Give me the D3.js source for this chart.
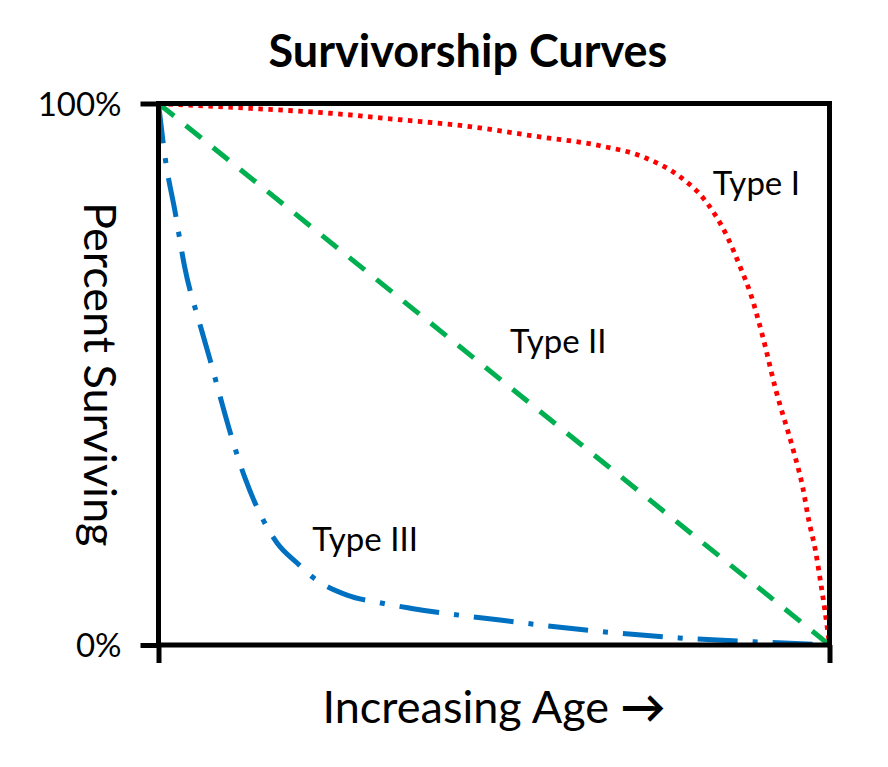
<!DOCTYPE html>
<html>
<head>
<meta charset="utf-8">
<style>
  body { margin: 0; background: #fff; }
  svg { display: block; }
  text { font-family: Lato, "Open Sans", sans-serif; fill: #000; }
  .axis .domain { display: none; }
</style>
</head>
<body>
<svg width="888" height="767"></svg>
<script src="https://d3js.org/d3.v7.min.js"></script>
<script>
  // age (0-100 % of lifespan) vs percent surviving
  var typeIAge = [0, 13.7, 25.6, 36, 46, 55.9, 65.8, 72.3, 77.8, 81.2, 84.8, 86.7, 88.2, 90, 92, 94.6, 96, 96.9, 97.9, 98.7, 99.3, 100];
  var typeISurv = [100, 99.1, 98.2, 97, 95.8, 94, 92.2, 90.1, 86.4, 82.5, 75.3, 69.8, 65, 57.2, 47.1, 36, 29.2, 23.1, 17.5, 11.4, 6.5, 0];
  var typeIIAge = [0, 100];
  var typeIISurv = [100, 0];
  var typeIIIAge = [0, 1, 2.5, 3.9, 6.2, 7.7, 9.2, 10.7, 12.9, 14.4, 15.6, 17.7, 20.7, 22.9, 28.1, 33, 37.5, 50.9, 66.6, 77.6, 88.7, 100];
  var typeIIISurv = [100, 89.9, 79.8, 69.8, 59.1, 52.6, 45.8, 39.2, 30.8, 26.2, 23.1, 18.8, 15.1, 12.6, 9.2, 7.8, 6.8, 4.6, 2.4, 1.3, 0.6, 0];
  var seriesNames = ["Type I", "Type II", "Type III"];
  var labelAge = [82.6, 52.4, 22.9];
  var labelSurv = [83.1, 53.9, 17.3];
  var yTicks = [0, 100];
  var xTicks = [0, 100];

  var svg = d3.select("svg");
  var plotLeft = 158.5, plotRight = 829.5, plotTop = 103.5, plotBottom = 645;

  var x = d3.scaleLinear().domain([0, 100]).range([plotLeft, plotRight]);
  var y = d3.scaleLinear().domain([0, 100]).range([plotBottom, plotTop]);

  function zip(a, b) {
    return a.map(function(v, i) { return [v, b[i]]; });
  }

  var series = [
    { name: seriesNames[0], pts: zip(typeIAge, typeISurv), color: "#ff0000", dash: "4.5 5.5", w: 4.8 },
    { name: seriesNames[1], pts: zip(typeIIAge, typeIISurv), color: "#00b050", dash: "20 15", w: 5 },
    { name: seriesNames[2], pts: zip(typeIIIAge, typeIIISurv), color: "#0070c0", dash: "40 15 5 15", w: 5 }
  ];

  var line = d3.line()
    .x(function(d) { return x(d[0]); })
    .y(function(d) { return y(d[1]); })
    .curve(d3.curveMonotoneX);

  svg.append("g")
    .selectAll("path")
    .data(series)
    .enter().append("path")
    .attr("fill", "none")
    .attr("stroke", function(d) { return d.color; })
    .attr("stroke-width", function(d) { return d.w; })
    .attr("stroke-dasharray", function(d) { return d.dash; })
    .attr("d", function(d) { return line(d.pts); });

  // frame
  svg.append("rect")
    .attr("x", x(0)).attr("y", y(100))
    .attr("width", x(100) - x(0)).attr("height", y(0) - y(100))
    .attr("fill", "none")
    .attr("stroke", "#000")
    .attr("stroke-width", 5);

  var yAxis = svg.append("g")
    .attr("class", "axis")
    .attr("transform", "translate(" + plotLeft + ",0)")
    .call(d3.axisLeft(y).tickValues(yTicks).tickSize(18).tickPadding(19)
      .tickFormat(function(d) { return d + "%"; }));
  yAxis.selectAll(".tick line").attr("stroke", "#000").attr("stroke-width", 5);
  yAxis.selectAll(".tick text")
    .attr("font-family", "Lato")
    .attr("font-size", 33)
    .attr("dy", "0.36em");

  var xAxis = svg.append("g")
    .attr("class", "axis")
    .attr("transform", "translate(0," + plotBottom + ")")
    .call(d3.axisBottom(x).tickValues(xTicks).tickSize(18).tickFormat(""));
  xAxis.selectAll(".tick line").attr("stroke", "#000").attr("stroke-width", 5);

  // curve labels
  svg.append("g")
    .selectAll("text")
    .data(seriesNames)
    .enter().append("text")
    .attr("x", function(d, i) { return x(labelAge[i]); })
    .attr("y", function(d, i) { return y(labelSurv[i]); })
    .attr("font-size", 33)
    .text(function(d) { return d; });

  svg.append("text")
    .attr("x", 468)
    .attr("y", 67)
    .attr("text-anchor", "middle")
    .attr("font-size", 45)
    .attr("font-weight", "bold")
    .text("Survivorship Curves");

  var xLabel = svg.append("text")
    .attr("x", (plotLeft + plotRight) / 2)
    .attr("y", 723)
    .attr("text-anchor", "middle")
    .attr("font-size", 45);
  xLabel.append("tspan").text("Increasing Age ");
  xLabel.append("tspan").attr("font-weight", "bold").text("\u2192");

  svg.append("text")
    .attr("transform", "translate(84," + (plotTop + plotBottom) / 2 + ") rotate(90)")
    .attr("text-anchor", "middle")
    .attr("font-size", 45)
    .text("Percent Surviving");
</script>
</body>
</html>
